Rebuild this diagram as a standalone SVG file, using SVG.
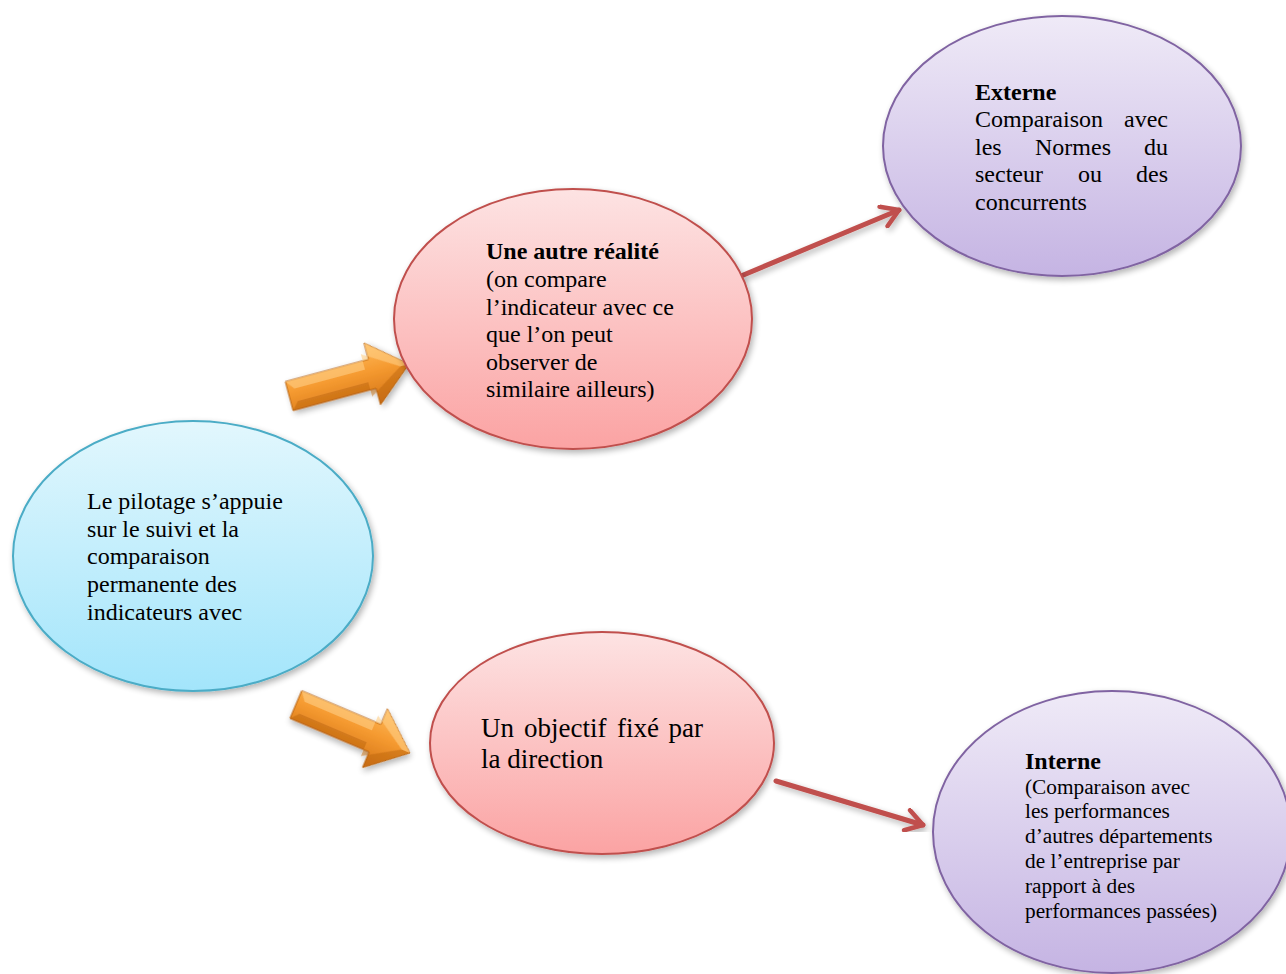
<svg xmlns="http://www.w3.org/2000/svg" width="1286" height="974" viewBox="0 0 1286 974">
  <style>
    text { font-family: "Liberation Serif", "Times New Roman", serif; fill: #000; }
    .t24 { font-size: 24px; }
    .t27 { font-size: 27px; }
    .t21 { font-size: 21.3px; }
    .b { font-weight: bold; }
    .end { text-anchor: end; }
    .link { stroke: #c0504d; stroke-width: 5; fill: none; stroke-linecap: round; }
  </style>
  <defs>
    <linearGradient id="gBlue" x1="0" y1="0" x2="0" y2="1">
      <stop offset="0" stop-color="#e2f7fd"/>
      <stop offset="1" stop-color="#a3e5fb"/>
    </linearGradient>
    <linearGradient id="gPink" x1="0" y1="0" x2="0" y2="1">
      <stop offset="0" stop-color="#fde3e3"/>
      <stop offset="1" stop-color="#fba3a3"/>
    </linearGradient>
    <linearGradient id="gPurple" x1="0" y1="0" x2="0" y2="1">
      <stop offset="0" stop-color="#efeaf7"/>
      <stop offset="1" stop-color="#c5b4e3"/>
    </linearGradient>
    <linearGradient id="gOrange" x1="0" y1="0" x2="0" y2="1">
      <stop offset="0" stop-color="#ffbb5c"/>
      <stop offset="0.45" stop-color="#f59a30"/>
      <stop offset="1" stop-color="#d27216"/>
    </linearGradient>
    <filter id="shadow" x="-10%" y="-10%" width="125%" height="125%">
      <feGaussianBlur in="SourceAlpha" stdDeviation="3"/>
      <feOffset dx="2" dy="3"/>
      <feComponentTransfer><feFuncA type="linear" slope="0.3"/></feComponentTransfer>
      <feMerge><feMergeNode/><feMergeNode in="SourceGraphic"/></feMerge>
    </filter>
    <marker id="chev" viewBox="0 0 12 12" refX="10" refY="6" markerWidth="5" markerHeight="5" orient="auto" markerUnits="strokeWidth">
      <path d="M2,1 L10,6 L2,11" fill="none" stroke="#c0504d" stroke-width="2.2" stroke-linecap="round" stroke-linejoin="round"/>
    </marker>
    <!-- bevelled block arrow pointing along +x, tip at origin -->
    <g id="blockArrow">
      <path d="M-124,-15 L-38,-15 L-38,-32 L0,0 L-38,32 L-38,15 L-124,15 Z" fill="url(#gOrange)" stroke="#b8620e" stroke-width="1"/>
      <path d="M-124,-15 L-38,-15 L-38,-32 L0,0 L-9,0 L-44,-22 L-44,-6 L-117,-6 Z" fill="#ffcf86" opacity="0.6"/>
      <path d="M-124,15 L-38,15 L-38,32 L0,0 L-9,0 L-44,22 L-44,7 L-117,7 Z" fill="#b9610c" opacity="0.45"/>
    </g>
  </defs>

  <!-- connectors -->
  <g id="connectors">
    <use href="#blockArrow" transform="translate(409,364) rotate(-15)" filter="url(#shadow)"/>
    <use href="#blockArrow" transform="translate(410,753) rotate(23)" filter="url(#shadow)"/>
    <line class="link" x1="741" y1="276" x2="899" y2="210" marker-end="url(#chev)" filter="url(#shadow)"/>
    <line class="link" x1="776" y1="781" x2="923" y2="825" marker-end="url(#chev)" filter="url(#shadow)"/>
  </g>

  <g id="node-pilotage">
    <ellipse cx="193" cy="556" rx="180" ry="135" fill="url(#gBlue)" stroke="#4bacc6" stroke-width="2" filter="url(#shadow)"/>
    <text class="t24" x="87" y="509">Le pilotage s’appuie</text>
    <text class="t24" x="87" y="537">sur le suivi et la</text>
    <text class="t24" x="87" y="564">comparaison</text>
    <text class="t24" x="87" y="592">permanente des</text>
    <text class="t24" x="87" y="620">indicateurs avec</text>
  </g>

  <g id="node-realite">
    <ellipse cx="573" cy="319" rx="179" ry="130" fill="url(#gPink)" stroke="#c0504d" stroke-width="2" filter="url(#shadow)"/>
    <text class="t24 b" x="486" y="259">Une autre réalité</text>
    <text class="t24" x="486" y="287">(on compare</text>
    <text class="t24" x="486" y="315">l’indicateur avec ce</text>
    <text class="t24" x="486" y="342">que l’on peut</text>
    <text class="t24" x="486" y="370">observer de</text>
    <text class="t24" x="486" y="397">similaire ailleurs)</text>
  </g>

  <g id="node-objectif">
    <ellipse cx="602" cy="743" rx="172" ry="111" fill="url(#gPink)" stroke="#c0504d" stroke-width="2" filter="url(#shadow)"/>
    <text class="t27" x="481" y="737">Un</text>
    <text class="t27" x="524" y="737">objectif</text>
    <text class="t27" x="617" y="737">fixé</text>
    <text class="t27 end" x="703" y="737">par</text>
    <text class="t27" x="481" y="768">la direction</text>
  </g>

  <g id="node-externe">
    <ellipse cx="1062" cy="146" rx="179" ry="130" fill="url(#gPurple)" stroke="#8064a2" stroke-width="2" filter="url(#shadow)"/>
    <text class="t24 b" x="975" y="100">Externe</text>
    <text class="t24" x="975" y="127">Comparaison</text>
    <text class="t24 end" x="1168" y="127">avec</text>
    <text class="t24" x="975" y="155">les</text>
    <text class="t24" x="1035" y="155">Normes</text>
    <text class="t24 end" x="1168" y="155">du</text>
    <text class="t24" x="975" y="182">secteur</text>
    <text class="t24" x="1078" y="182">ou</text>
    <text class="t24 end" x="1168" y="182">des</text>
    <text class="t24" x="975" y="210">concurrents</text>
  </g>

  <g id="node-interne">
    <ellipse cx="1112" cy="832" rx="179" ry="141" fill="url(#gPurple)" stroke="#8064a2" stroke-width="2" filter="url(#shadow)"/>
    <text class="t24 b" x="1025" y="769">Interne</text>
    <text class="t21" x="1025" y="794">(Comparaison avec</text>
    <text class="t21" x="1025" y="818">les performances</text>
    <text class="t21" x="1025" y="843">d’autres départements</text>
    <text class="t21" x="1025" y="868">de l’entreprise par</text>
    <text class="t21" x="1025" y="893">rapport à des</text>
    <text class="t21" x="1025" y="918">performances passées)</text>
  </g>
</svg>
